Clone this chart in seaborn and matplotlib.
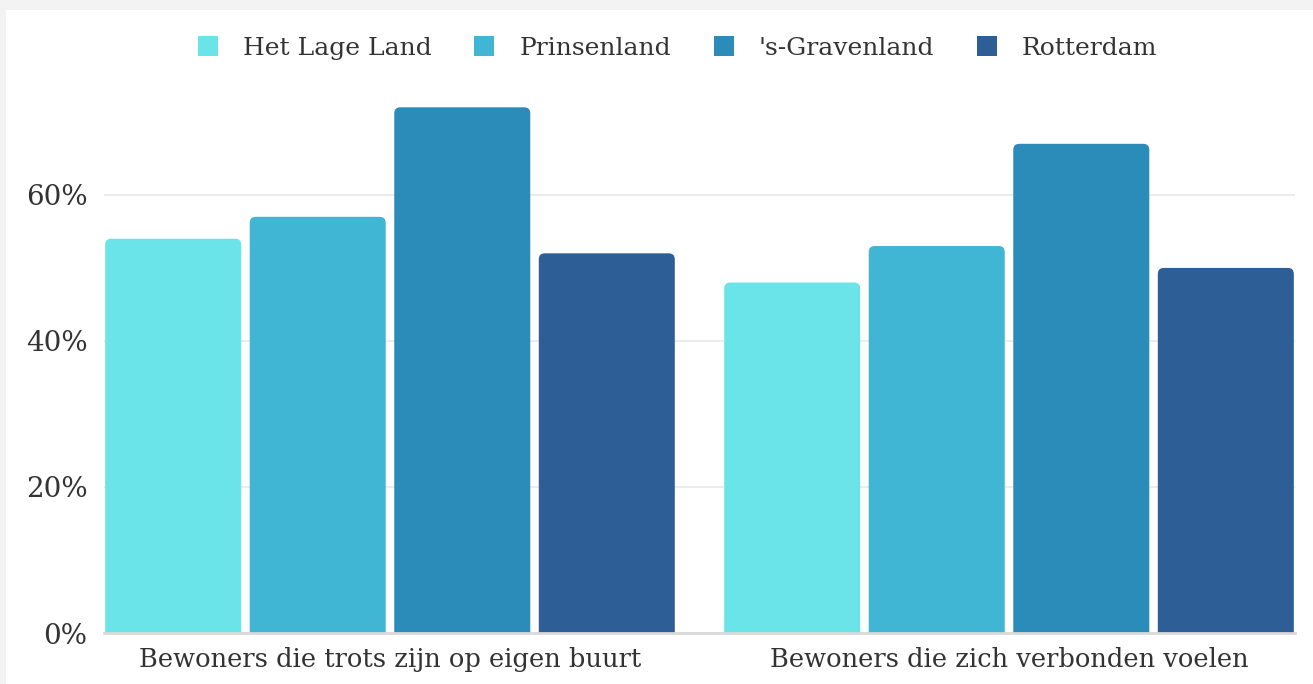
import pandas as pd
import numpy as np
import matplotlib
matplotlib.use('Agg')
import matplotlib.pyplot as plt
import matplotlib.ticker as mtick
from matplotlib.patches import FancyBboxPatch
import seaborn as sns

# data
vragen = ['Bewoners die trots zijn op eigen buurt', 'Bewoners die zich verbonden voelen']
wijken = ['Het Lage Land', 'Prinsenland', "'s-Gravenland", 'Rotterdam']
trots = [54, 57, 72, 52]
verbonden = [48, 53, 67, 50]
kleuren = ['#6ae4e8', '#41b6d4', '#2b8bb9', '#2d5e96']

rows = []
for w, t, v in zip(wijken, trots, verbonden):
    rows.append({'vraag': vragen[0], 'wijk': w, 'pct': t})
    rows.append({'vraag': vragen[1], 'wijk': w, 'pct': v})
df = pd.DataFrame(rows)

sns.set_theme(style='white')
plt.rcParams['font.family'] = ['DejaVu Serif']

fig = plt.figure(figsize=(13.13, 6.84), dpi=100)
fig.patch.set_facecolor('#f3f3f3')
# white panel, leaving a grey band at the top and left
fig.add_artist(plt.Rectangle((6 / 1313, 0), 1, 1 - 10 / 684, transform=fig.transFigure,
                             facecolor='white', edgecolor='none', zorder=0))

ax = fig.add_axes([104 / 1313, 1 - 633 / 684, (1295 - 104) / 1313, (633 - 100) / 684])
ax.set_facecolor('none')

sns.barplot(data=df, x='vraag', y='pct', hue='wijk', hue_order=wijken, palette=kleuren,
            saturation=1, width=0.934, gap=0.059, ax=ax, legend=False, zorder=3)

ax.set_xlim(-0.462, 1.462)
ax.set_ylim(0, 73)
ax.set_yticks([0, 20, 40, 60])
ax.yaxis.set_major_formatter(mtick.PercentFormatter(decimals=0))
ax.grid(axis='y', color='#e9e9e9', linewidth=1.2, zorder=0)
ax.set_axisbelow(True)
for s in ['top', 'right', 'left']:
    ax.spines[s].set_visible(False)
ax.spines['bottom'].set_color('#d9d9d9')
ax.spines['bottom'].set_linewidth(2)
ax.spines['bottom'].set_zorder(4)
ax.tick_params(axis='y', length=0, labelsize=20, colors='#333333', pad=12)
ax.tick_params(axis='x', length=0, labelsize=18.5, colors='#333333', pad=10)
ax.set_xlabel('')
ax.set_ylabel('')

# rounded top corners on the bars
px_x = ax.transData.transform((1, 0))[0] - ax.transData.transform((0, 0))[0]
px_y = ax.transData.transform((0, 1))[1] - ax.transData.transform((0, 0))[1]
r = 6 / px_x
for p in list(ax.patches):
    x, y, w, h = p.get_x(), p.get_y(), p.get_width(), p.get_height()
    fc = p.get_facecolor()
    p.remove()
    ax.add_patch(FancyBboxPatch((x, y - 1.5), w, h + 1.5,
                                boxstyle=f'round,pad=0,rounding_size={r}',
                                mutation_aspect=px_x / px_y, facecolor=fc,
                                edgecolor='none', zorder=3))

handles = [plt.Rectangle((0, 0), 1, 1, facecolor=c, edgecolor='none') for c in kleuren]
fig.legend(handles, wijken, loc='center', bbox_to_anchor=(0.516, 1 - 48 / 684), ncol=4,
           frameon=False, fontsize=18, handlelength=0.8, handleheight=0.8,
           handletextpad=1.0, columnspacing=1.7, labelcolor='#333333')

fig.savefig('out.png', dpi=100, facecolor=fig.get_facecolor())
